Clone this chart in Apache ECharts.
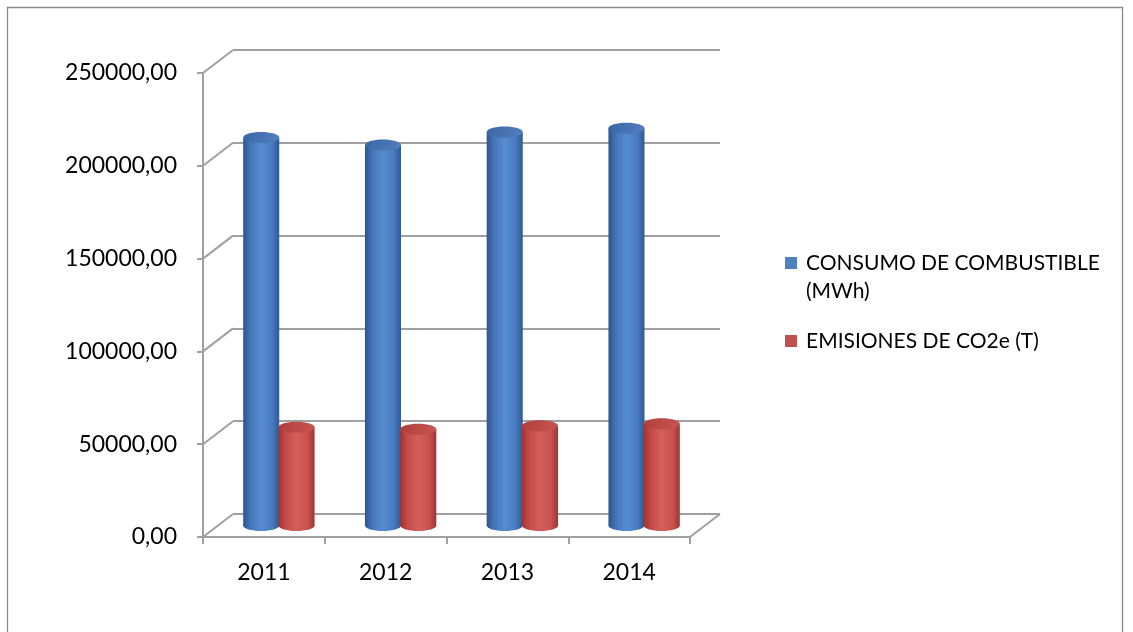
<!DOCTYPE html>
<html><head><meta charset="utf-8">
<script src="https://cdn.jsdelivr.net/npm/echarts@6/dist/echarts.min.js"></script>
<style>html,body{margin:0;padding:0;background:#fff}#c{width:1133px;height:632px}</style>
</head><body><div id="c"></div>
<script>
const years = ['2011', '2012', '2013', '2014'];
const consumo = [209000, 205000, 212000, 214000];
const emisiones = [53000, 51800, 53800, 54800];
const yTicks = [0, 50000, 100000, 150000, 200000, 250000];
const seriesNames = ['CONSUMO DE COMBUSTIBLE\n(MWh)', 'EMISIONES DE CO2e (T)'];

const FONT = 'Lato';
const GRAY = '#a0a0a0';
const DX = 30, DY = 23;
const FRONT = {left: 203, top: 73, width: 487, height: 464};

function fmt(v) { return v.toFixed(2).replace('.', ','); }

function cylinder(sign, body, topFill) {
  return function (params, api) {
    const i = api.value(0), v = api.value(1);
    const t = api.coord([i, v]);
    const b = api.coord([i, 0]);
    const band = api.size([1, 0])[0];
    const w = band * 0.296;
    const cx = t[0] + sign * w * 0.49;
    const ry = 5.5;
    const grad = {type: 'linear', x: 0, y: 0, x2: 1, y2: 0, colorStops: body};
    return {
      type: 'group',
      children: [
        {type: 'ellipse', shape: {cx: cx, cy: b[1], rx: w / 2, ry: ry}, style: {fill: grad}},
        {type: 'rect', shape: {x: cx - w / 2, y: t[1], width: w, height: b[1] - t[1]}, style: {fill: grad}},
        {type: 'ellipse', shape: {cx: cx, cy: t[1], rx: w / 2, ry: ry},
          style: {fill: {type: 'linear', x: 0, y: 0, x2: 1, y2: 1, colorStops: topFill}}}
      ]
    };
  };
}

const chart = echarts.init(document.getElementById('c'), null, {renderer: 'canvas'});
chart.setOption({
  animation: false,
  color: ['#4F81BD', '#C0504D'],
  textStyle: {fontFamily: FONT},
  graphic: [{
    type: 'rect', shape: {x: 7.5, y: 7.5, width: 1115, height: 640},
    style: {fill: null, stroke: '#8a8a8a', lineWidth: 1.3}, silent: true, z: -10
  }],
  grid: [
    {left: FRONT.left, top: FRONT.top, width: FRONT.width, height: FRONT.height},
    {left: FRONT.left + DX, top: FRONT.top - DY, width: FRONT.width, height: FRONT.height},
    {left: FRONT.left + DX / 2, top: FRONT.top - DY / 2, width: FRONT.width, height: FRONT.height}
  ],
  xAxis: [
    {gridIndex: 0, type: 'category', data: years, boundaryGap: true,
      axisLine: {lineStyle: {color: GRAY, width: 2}},
      axisTick: {show: true, length: 7, lineStyle: {color: GRAY, width: 2}},
      axisLabel: {color: '#000', fontSize: 23, fontFamily: FONT, margin: 24}},
    {gridIndex: 1, type: 'category', data: years, show: false},
    {gridIndex: 2, type: 'category', data: years, show: false}
  ],
  yAxis: [
    {gridIndex: 0, type: 'value', min: 0, max: 250000, interval: 50000,
      axisLine: {show: true, lineStyle: {color: GRAY, width: 2}},
      axisTick: {show: true, length: 6, lineStyle: {color: GRAY, width: 2}},
      splitLine: {show: false},
      axisLabel: {color: '#000', fontSize: 23, fontFamily: FONT, margin: 26, formatter: fmt}},
    {gridIndex: 1, type: 'value', min: 0, max: 250000, interval: 50000,
      axisLine: {show: false}, axisTick: {show: false}, axisLabel: {show: false},
      splitLine: {show: true, lineStyle: {color: GRAY, width: 2}}},
    {gridIndex: 2, type: 'value', min: 0, max: 250000, interval: 50000, show: false}
  ],
  legend: {
    orient: 'vertical', left: 785, top: 221, padding: 0,
    itemWidth: 12, itemHeight: 12, itemGap: 22, icon: 'rect',
    textStyle: {color: '#000', fontSize: 21, fontFamily: FONT, lineHeight: 28, padding: [0, 0, 0, 4]},
    formatter: function (name) { return name.indexOf('\n') >= 0 ? '\n' + name : name; },
    data: seriesNames
  },
  series: [
    {
      type: 'custom', name: 'frame', xAxisIndex: 0, yAxisIndex: 0, silent: true, z: 1,
      data: yTicks.map(v => [0, v]),
      renderItem: function (params, api) {
        const p = api.coord([0, api.value(1)]);
        const cs = params.coordSys;
        const ls = {stroke: GRAY, lineWidth: 2};
        const children = [{type: 'line', shape: {x1: cs.x, y1: p[1], x2: cs.x + DX, y2: p[1] - DY}, style: ls}];
        if (api.value(1) === 0) {
          children.push({type: 'line', shape: {x1: cs.x + cs.width, y1: p[1], x2: cs.x + cs.width + DX, y2: p[1] - DY}, style: ls});
        }
        return {type: 'group', children: children};
      }
    },
    {
      type: 'custom', name: seriesNames[0], xAxisIndex: 2, yAxisIndex: 2, z: 3,
      itemStyle: {color: '#4F81BD'},
      data: consumo.map((v, i) => [i, v]),
      renderItem: cylinder(-1,
        [{offset: 0, color: '#2c5590'}, {offset: 0.2, color: '#4574b8'}, {offset: 0.5, color: '#578cd3'}, {offset: 0.8, color: '#487bc0'}, {offset: 1, color: '#2f5995'}],
        [{offset: 0, color: '#3a66a5'}, {offset: 1, color: '#527fc0'}])
    },
    {
      type: 'custom', name: seriesNames[1], xAxisIndex: 2, yAxisIndex: 2, z: 4,
      itemStyle: {color: '#C0504D'},
      data: emisiones.map((v, i) => [i, v]),
      renderItem: cylinder(1,
        [{offset: 0, color: '#a03432'}, {offset: 0.2, color: '#c44b48'}, {offset: 0.5, color: '#d45f5c'}, {offset: 0.8, color: '#c9524f'}, {offset: 1, color: '#9e3533'}],
        [{offset: 0, color: '#ae3f3c'}, {offset: 1, color: '#ca5552'}])
    }
  ]
});
</script>
</body></html>
